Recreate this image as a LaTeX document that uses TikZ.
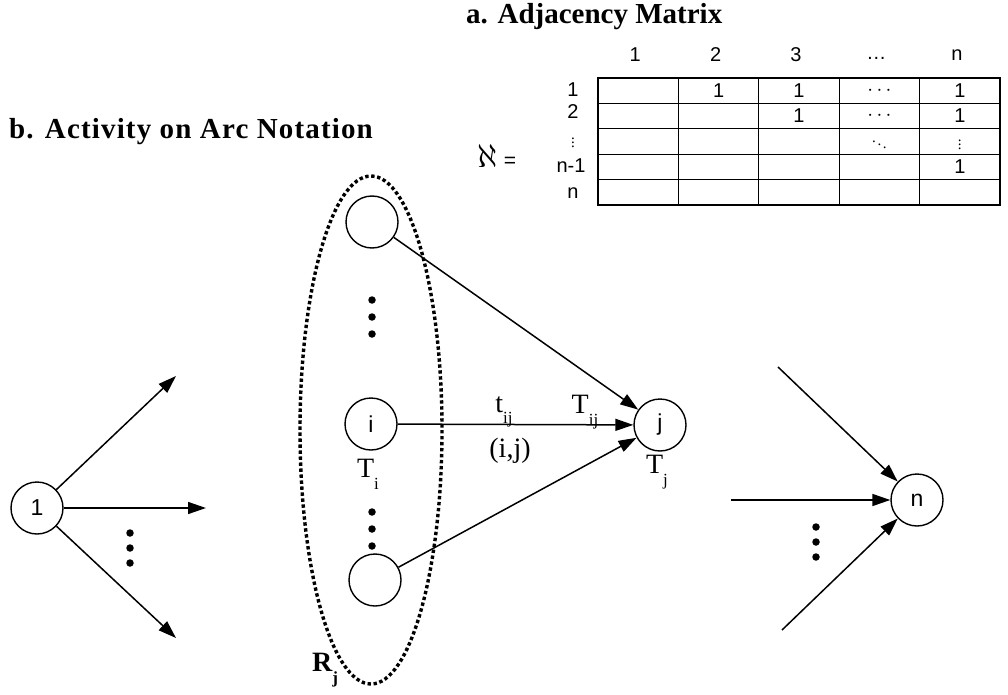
\documentclass[tikz,border=0pt]{standalone}
\usepackage{fontspec}
\setmainfont{Liberation Serif}
\setsansfont{Liberation Sans}
\usetikzlibrary{arrows.meta}
\newcommand\mysub[1]{\raisebox{-0.42em}{\fontsize{17}{17}\selectfont #1}}
\begin{document}
\begin{tikzpicture}[x=1pt,y=-1pt,
  nd/.style={circle,draw,line width=1.4pt,minimum size=52pt,inner sep=0pt,font=\sffamily\fontsize{23}{23}\selectfont},
  arr/.style={line width=1.5pt,-{Triangle[length=18pt,width=12pt]}},
  lbl/.style={inner sep=0pt,font=\fontsize{28}{28}\selectfont},
  ttl/.style={inner sep=0pt,anchor=west,font=\bfseries\fontsize{29}{29}\selectfont},
  tab/.style={inner sep=0pt,font=\sffamily\fontsize{20}{20}\selectfont},
  vd/.style={inner sep=0pt,font=\fontsize{15}{15}\selectfont},
  dotf/.style={circle,fill,inner sep=0pt,minimum size=7.5pt}]
\useasboundingbox (0,0) rectangle (1008,695);
% titles
\node[ttl] (ta) at (466,17) {a. Adjacency Matrix};
\node[ttl] (tb) at (9,132) {\addfontfeatures{LetterSpace=4}b. Activity on Arc Notation};
% matrix
\def\tx{598}\def\ty{78}\def\cw{80.4}\def\rh{25.4}
\draw[line width=1.6pt] (\tx,\ty) rectangle (\tx+5*\cw,\ty+5*\rh);
\foreach \k in {1,...,4}{
  \draw[line width=1.2pt] (\tx+\k*\cw,\ty) -- (\tx+\k*\cw,\ty+5*\rh);
  \draw[line width=1.2pt] (\tx,\ty+\k*\rh) -- (\tx+5*\cw,\ty+\k*\rh);
}
\foreach \c/\t in {1/1,2/2,3/3,5/n}
  \node[tab] (h\c) at (\tx+\c*\cw-0.5*\cw-3,55) {\t};
\node[tab] (h4) at (\tx+3.5*\cw-3,58) {\dots};
\node[tab] (r1) at (573,90) {1};
\node[tab] (r2) at (573,112) {2};
\node[vd] (r3) at (573,140) {$\vdots$};
\node[tab] (r4) at (571,166) {n-1};
\node[tab] (r5) at (573,193) {n};
\node[inner sep=0pt] (aleph) at (497,156) {\scalebox{3.3}{$\aleph$}\hspace{6pt}\sffamily\fontsize{21}{21}\selectfont=};
\foreach \r/\c/\t [count=\q] in {1/2/1,1/3/1,1/5/1,2/3/1,2/5/1,4/5/1}
  \node[tab] (m\q) at (\tx+\c*\cw-0.5*\cw,\ty+\r*\rh-0.5*\rh) {\t};
\node[tab] (m7) at (\tx+3.5*\cw,\ty+0.5*\rh) {$\cdots$};
\node[tab] (m8) at (\tx+3.5*\cw,\ty+1.5*\rh) {$\cdots$};
\node[vd] (m9) at (\tx+3.5*\cw,\ty+2.5*\rh) {$\ddots$};
\node[vd] (m10) at (\tx+4.5*\cw,\ty+2.5*\rh) {$\vdots$};
% left part
\node[nd] (n1) at (37,508) {1};
\coordinate (a1) at (176,376);
\coordinate (a2) at (206,508);
\coordinate (a3) at (176,638);
\draw[arr] (n1) -- (a1);
\draw[arr] (n1) -- (a2);
\draw[arr] (n1) -- (a3);
\foreach \y [count=\q] in {533,548,563} \node[dotf] (ld\q) at (130,\y) {};
% set R_j
\draw[line width=3.4pt,dash pattern=on 3.4pt off 2.6pt] (371,430) ellipse [x radius=71,y radius=254];
\node[nd] (top) at (372,222) {};
\node[nd] (ni) at (371,424) {i};
\node[nd] (bot) at (375,580) {};
\foreach \y [count=\q] in {300,317,334} \node[dotf] (ud\q) at (372,\y) {};
\foreach \y [count=\q] in {512,529,546} \node[dotf] (bd\q) at (372,\y) {};
\node[lbl] (Ti) at (368,474) {T\mysub{i}};
\node[lbl,font=\bfseries\fontsize{28}{28}\selectfont] (Rj) at (325,670) {R\mysub{\bfseries j}};
% node j
\node[nd] (nj) at (660,425) {j};
\node[lbl] (Tj) at (657,472) {T\mysub{j}};
\draw[arr] (top) -- (nj);
\draw[arr] (ni) -- (nj);
\draw[arr] (bot) -- (nj);
\node[lbl] (tij) at (504,412) {t\mysub{ij}};
\node[lbl] (Tij) at (585,412) {T\mysub{ij}};
\node[lbl] (ij) at (510,451) {(i,j)};
% right part
\node[nd] (nn) at (917,500) {n};
\coordinate (b1) at (778,367);
\coordinate (b2) at (731,500);
\coordinate (b3) at (782,630);
\draw[arr] (b1) -- (nn);
\draw[arr] (b2) -- (nn);
\draw[arr] (b3) -- (nn);
\foreach \y [count=\q] in {527,542,557} \node[dotf] (rd\q) at (816,\y) {};
\end{tikzpicture}
\end{document}
